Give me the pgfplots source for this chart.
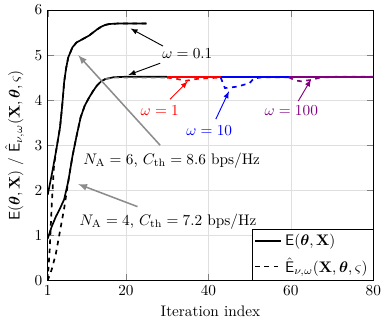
\documentclass[border=0pt]{standalone}
\usepackage{pgfplots}
\pgfplotsset{compat=1.18}
\usepackage{amsmath,amssymb,bm}
\begin{document}
\begin{tikzpicture}
\begin{axis}[
 scale only axis, width=213pt, height=177pt,
 xmin=1, xmax=80, ymin=0, ymax=6,
 xtick={1,20,40,60,80}, ytick={0,1,2,3,4,5,6},
 grid=major, grid style={gray!25},
 xlabel={Iteration index},
 ylabel={$\mathsf{E}(\bm{\theta},\mathbf{X})$ / $\hat{\mathsf{E}}_{\nu,\omega}(\mathbf{X},\bm{\theta},\varsigma)$},
 legend style={at={(1,0)},anchor=south east, cells={anchor=west}, inner sep=1.5pt, row sep=2.5pt},
 every axis plot/.append style={line width=1.1pt},
]
\addlegendimage{black}
\addlegendentry{$\mathsf{E}(\bm{\theta},\mathbf{X})$}
\addlegendimage{black, dashed}
\addlegendentry{$\hat{\mathsf{E}}_{\nu,\omega}(\mathbf{X},\bm{\theta},\varsigma)$}
% N_A = 6
\addplot[black, forget plot] coordinates {(1,1.9)(2,2.35)(3,2.85)(4,3.4)(4.5,3.85)(5,4.4)(5.5,4.72)(6,4.95)(7,5.17)(8,5.28)(9,5.33)(10,5.38)(11,5.43)(12,5.5)(13,5.57)(14,5.63)(15,5.67)(16,5.69)(18,5.7)(25,5.7)};
\addplot[black, dashed, forget plot] coordinates {(1,0)(1.5,0.7)(2,1.7)(2.5,2.5)(3,2.85)(4,3.4)(4.5,3.85)(5,4.4)(5.5,4.72)(6,4.95)(7,5.17)(8,5.28)(9,5.33)(10,5.38)(11,5.43)(12,5.5)(13,5.57)(14,5.63)(15,5.67)(16,5.69)(18,5.7)(25,5.7)};
% N_A = 4
\addplot[black, forget plot] coordinates {(1,0.93)(2,1.2)(3,1.42)(4,1.6)(5,1.8)(6,2.2)(7,2.75)(8,3.2)(9,3.62)(10,3.88)(11,4.05)(12,4.2)(13,4.33)(14,4.42)(15,4.47)(17,4.51)(20,4.52)(30,4.52)};
\addplot[black!55, dashed, forget plot] coordinates {(15,4.47)(17,4.5)(30,4.5)};
\addplot[black, dashed, forget plot] coordinates {(1,0)(2,0.25)(3,0.6)(4,1.1)(5,1.6)(6,2.2)(7,2.75)(8,3.2)(9,3.62)(10,3.88)(11,4.05)(12,4.2)(13,4.33)(14,4.42)(15,4.47)};
% omega = 1
\addplot[red, forget plot] coordinates {(30,4.52)(43,4.52)};
\addplot[red, dashed, forget plot] coordinates {(30,4.5)(32,4.48)(34.5,4.43)(37,4.47)(40,4.49)(43,4.5)};
% omega = 10
\addplot[blue, forget plot] coordinates {(43,4.52)(59.5,4.52)};
\addplot[blue, dashed, forget plot] coordinates {(43,4.5)(44,4.27)(47,4.3)(50,4.38)(51,4.48)(53,4.51)(59.5,4.51)};
% omega = 100
\addplot[violet, forget plot] coordinates {(59.5,4.52)(80,4.52)};
\addplot[violet, dashed, forget plot] coordinates {(59.5,4.51)(61,4.44)(62.5,4.42)(65,4.45)(67,4.5)(71,4.52)(80,4.52)};
% annotations
\node at (axis cs:34.9,5.04) {$\omega = 0.1$};
\draw[-latex, semithick] (axis cs:29,5.2) -- (axis cs:21.1,5.59);
\draw[-latex, semithick] (axis cs:28.3,4.82) -- (axis cs:20.6,4.56);
\node[red] at (axis cs:28.2,3.76) {$\omega = 1$};
\draw[-latex, semithick, red] (axis cs:30.7,4.02) -- (axis cs:35,4.42);
\node[blue] at (axis cs:40.2,3.33) {$\omega = 10$};
\draw[-latex, semithick, blue] (axis cs:41.8,3.58) -- (axis cs:45,4.2);
\node[violet] at (axis cs:60.1,3.77) {$\omega = 100$};
\draw[-latex, semithick, violet] (axis cs:61.8,3.98) -- (axis cs:64.9,4.46);
\draw[-latex, line width=1pt, black!45] (axis cs:28.3,3.0) -- (axis cs:8.4,5.0);
\node at (axis cs:31.1,2.67) {$N_{\mathrm{A}}=6$, $C_{\mathrm{th}}=8.6$ bps/Hz};
\draw[-latex, line width=1pt, black!45] (axis cs:22.8,1.64) -- (axis cs:8.4,2.14);
\node at (axis cs:30.2,1.31) {$N_{\mathrm{A}}=4$, $C_{\mathrm{th}}=7.2$ bps/Hz};
\end{axis}
\end{tikzpicture}
\end{document}
